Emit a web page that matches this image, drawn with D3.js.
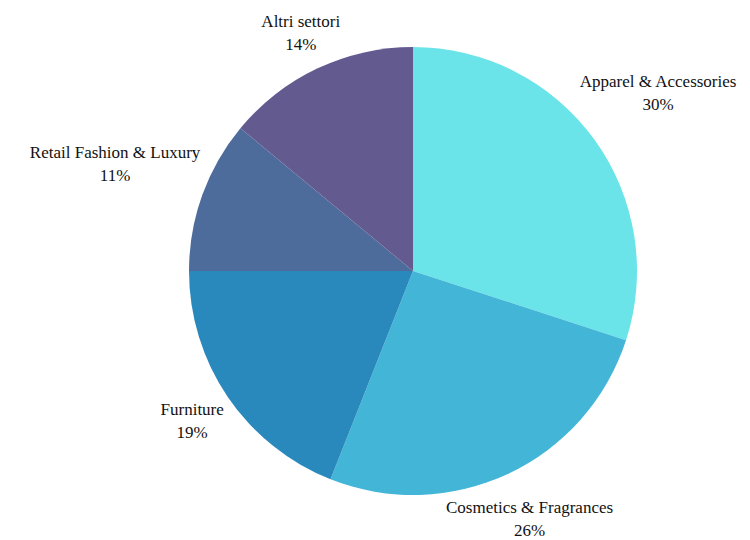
<!DOCTYPE html>
<html>
<head>
<meta charset="utf-8">
<script src="https://cdn.jsdelivr.net/npm/d3@7/dist/d3.min.js"></script>
<style>
  html, body { margin: 0; padding: 0; background: #ffffff; }
  svg { display: block; }
</style>
</head>
<body>
<svg id="chart" width="750" height="540"></svg>
<script>
// Sector shares (percent), clockwise from 12 o'clock
const sectors = ["Apparel & Accessories", "Cosmetics & Fragrances", "Furniture", "Retail Fashion & Luxury", "Altri settori"];
const shares = [30, 26, 19, 11, 14];
const palette = ["#6ae4e9", "#43b5d7", "#2a89bc", "#4e6c9b", "#635a8f"];

const width = 750, height = 540;
const cx = 413, cy = 271, radius = 224, labelGap = 5;
const fontFamily = "'Liberation Serif', 'Times New Roman', Times, serif";

const svg = d3.select("#chart");
const g = svg.append("g").attr("transform", `translate(${cx},${cy})`);

const data = sectors.map((name, i) => ({ name, value: shares[i] }));

const color = d3.scaleOrdinal().domain(sectors).range(palette);
const pie = d3.pie().value(d => d.value).sort(null);
const arc = d3.arc().innerRadius(0).outerRadius(radius);

const arcs = pie(data);

g.selectAll("path.slice")
  .data(arcs)
  .join("path")
  .attr("class", "slice")
  .attr("d", arc)
  .attr("fill", d => color(d.data.name));

// Labels: two lines (name, percent), pushed out along the slice's mid angle
// until the text box clears the circle by a small gap.
const fontSize = 17;
const lineHeight = 23;
const labels = g.selectAll("g.label")
  .data(arcs)
  .join("g")
  .attr("class", "label");

labels.append("text")
  .attr("text-anchor", "middle")
  .attr("font-family", fontFamily)
  .attr("font-size", fontSize)
  .attr("fill", "#111")
  .each(function(d) {
    const t = d3.select(this);
    t.append("tspan").attr("x", 0).attr("y", 0).text(d.data.name);
    t.append("tspan").attr("x", 0).attr("y", lineHeight).text(d3.format(".0f")(d.data.value) + "%");
  });

labels.each(function(d) {
  const node = d3.select(this).select("text").node();
  const bb = node.getBBox();
  const mid = (d.startAngle + d.endAngle) / 2;
  const ux = Math.sin(mid), uy = -Math.cos(mid);
  // offset of box center relative to text origin
  const ox = bb.x + bb.width / 2, oy = bb.y + bb.height / 2;
  const hw = bb.width / 2, hh = bb.height / 2;
  const target = radius + labelGap;
  // nearest distance from pie center to the box centred at distance s
  const nearest = s => {
    const bx = s * ux, by = s * uy;
    const dx = Math.max(Math.abs(bx) - hw, 0);
    const dy = Math.max(Math.abs(by) - hh, 0);
    return Math.hypot(dx, dy);
  };
  let lo = 0, hi = 1000;
  for (let k = 0; k < 60; k++) {
    const m = (lo + hi) / 2;
    if (nearest(m) < target) lo = m; else hi = m;
  }
  const s = hi;
  d3.select(this).attr("transform", `translate(${s * ux - ox},${s * uy - oy})`);
});
</script>
</body>
</html>
